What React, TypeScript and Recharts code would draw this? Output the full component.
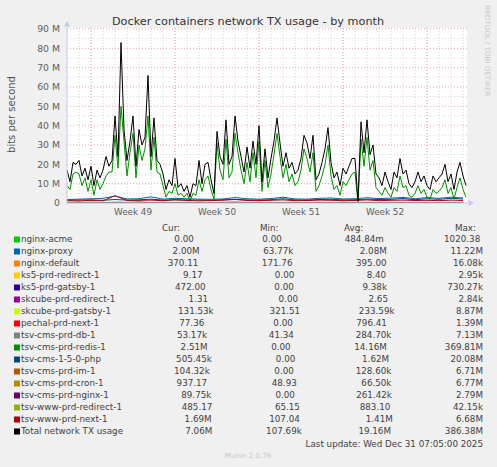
import React from "react";
import { LineChart, Line, XAxis, YAxis, CartesianGrid } from "recharts";

const FONT = "'DejaVu Sans', 'Liberation Sans', sans-serif";

// graph time base: days from the left edge of the graph (12 px per day)
const STEP = 0.25;
const X_END = 400 / 12;

const weekLabels = ["Week 49", "Week 50", "Week 51", "Week 52"];
const weekTickDays = [5.5, 12.5, 19.5, 26.5];
const weekStartDays = [2, 9, 16, 23, 30];
const dayLines = [1, 2, 3, 4, 5, 6, 7, 8, 9, 10, 11, 12, 13, 14, 15, 16, 17, 18, 19, 20, 21, 22, 23, 24, 25, 26, 27, 28, 29, 30, 31, 32, 33];
const yTicks = [0, 10, 20, 30, 40, 50, 60, 70, 80, 90];
const yMinor = [5, 15, 25, 35, 45, 55, 65, 75, 85];

// Mbit/s, one value every 6h
const totalValues = [
  17, 11, 21, 20, 22, 14, 18, 12, 19, 9,
  17, 13, 17, 24, 19, 22, 45, 24, 83, 38,
  22, 32, 45, 19, 38, 30, 34, 66, 24, 44,
  22, 20, 15, 7, 12, 9, 23, 8, 10, 6,
  9, 3, 10, 9, 22, 10, 20, 21, 12, 5,
  37, 24, 20, 43, 20, 24, 45, 32, 24, 16,
  29, 18, 32, 20, 40, 11, 28, 13, 23, 32,
  44, 31, 19, 26, 18, 21, 15, 17, 23, 35,
  31, 23, 35, 12, 15, 21, 28, 39, 21, 13,
  16, 9, 18, 15, 19, 23, 23, 1, 42, 26,
  43, 25, 30, 15, 13, 9, 16, 11, 7, 16,
  13, 23, 15, 17, 10, 8, 11, 16, 11, 14,
  9, 7, 14, 11, 13, 15, 20, 11, 15, 7,
  16, 21, 14, 9,
];
const redisValues = [
  9, 7, 15, 16, 15, 9, 13, 6, 12, 4,
  12, 7, 10, 14, 16, 16, 35, 18, 50, 32,
  14, 26, 36, 13, 30, 22, 28, 45, 17, 34,
  16, 15, 9, 3, 6, 5, 10, 4, 5, 3,
  5, 1, 5, 4, 12, 6, 12, 14, 7, 2,
  31, 17, 12, 33, 13, 16, 36, 26, 17, 10,
  21, 11, 26, 13, 32, 6, 22, 8, 15, 25,
  36, 24, 13, 20, 11, 15, 9, 11, 17, 28,
  23, 16, 26, 6, 9, 14, 20, 30, 14, 7,
  9, 4, 11, 9, 12, 15, 16, 0, 33, 19,
  34, 17, 22, 8, 6, 4, 8, 5, 3, 8,
  6, 14, 8, 9, 4, 3, 5, 9, 5, 7,
  3, 2, 7, 5, 6, 8, 12, 5, 8, 2,
  8, 13, 7, 3,
];

// small series, Mbit/s, one value per day
const acmeValues = [0, 0, 0, 0, 0, 0, 0, 0, 0, 0, 0, 0, 0, 0, 0, 0, 0, 0, 0, 0, 0, 0, 0, 0, 0, 0, 0, 0, 0, 0, 0, 0, 0, 0];
const proxyValues = [1.8, 2.0, 2.2, 2.4, 3.6, 2.1, 2.2, 3.2, 2.0, 2.4, 2.2, 2.0, 1.9, 2.1, 2.8, 2.2, 2.0, 2.3, 3.0, 2.1, 2.0, 2.4, 2.6, 2.1, 2.2, 2.7, 2.3, 2.5, 2.9, 2.2, 2.8, 2.4, 3.0, 2.6];
const defaultValues = [0, 0, 0, 0, 0, 0, 0, 0, 0, 0, 0, 0, 0, 0, 0, 0, 0, 0, 0, 0, 0, 0, 0, 0, 0, 0, 0, 0, 0, 0, 0, 0, 0, 0];
const ks5RedirectValues = [0, 0, 0, 0, 0, 0, 0, 0, 0, 0, 0, 0, 0, 0, 0, 0, 0, 0, 0, 0, 0, 0, 0, 0, 0, 0, 0, 0, 0, 0, 0, 0, 0, 0];
const ks5GatsbyValues = [0, 0, 0, 0, 0, 0, 0, 0, 0, 0, 0, 0, 0, 0, 0, 0, 0, 0, 0, 0, 0.2, 0, 0, 0, 0, 0, 0, 0, 0, 0, 0, 0, 0, 0];
const skRedirectValues = [0, 0, 0, 0, 0, 0, 0, 0, 0, 0, 0, 0, 0, 0, 0, 0, 0, 0, 0, 0, 0, 0, 0, 0, 0, 0, 0, 0, 0, 0, 0, 0, 0, 0];
const skGatsbyValues = [0.2, 0.3, 0.2, 0.2, 0.3, 0.2, 0.4, 0.2, 0.2, 0.3, 0.2, 0.2, 0.2, 0.3, 0.2, 0.2, 0.3, 0.2, 0.2, 0.3, 0.2, 0.2, 0.3, 0.2, 0.2, 0.3, 0.2, 0.2, 0.3, 0.2, 0.2, 0.3, 0.2, 0.2];
const pechalValues = [0, 0, 0, 0, 0, 0, 0, 0, 0, 0, 0, 0, 0, 0, 0, 0, 0, 0, 0, 0, 0, 0, 0, 0, 0, 0, 0, 0, 0, 0, 0, 0, 0, 0];
const dbValues = [0.3, 0.2, 0.3, 0.3, 0.4, 0.3, 0.2, 0.3, 0.3, 0.2, 0.3, 0.3, 0.2, 0.3, 0.4, 0.3, 0.2, 0.3, 0.3, 0.2, 0.3, 0.3, 0.2, 0.3, 0.3, 0.2, 0.3, 0.3, 0.2, 0.3, 0.3, 0.2, 0.3, 0.3];
const phpValues = [1.4, 1.5, 1.6, 1.4, 1.8, 1.5, 1.6, 2.0, 1.5, 1.7, 1.6, 1.5, 1.4, 1.6, 1.9, 1.6, 1.5, 1.7, 2.2, 1.6, 1.5, 1.8, 1.9, 1.6, 1.7, 2.0, 1.8, 1.9, 2.3, 1.7, 2.2, 1.9, 2.4, 2.1];
const imValues = [0.1, 0.1, 0.2, 0.1, 0.1, 0.1, 0.2, 0.1, 0.1, 0.1, 0.2, 0.1, 0.1, 0.1, 0.2, 0.1, 0.1, 0.1, 0.2, 0.1, 0.1, 0.1, 0.2, 0.1, 0.1, 0.1, 0.2, 0.1, 0.1, 0.1, 0.2, 0.1, 0.1, 0.1];
const cronValues = [0.1, 0.1, 0.1, 0.0, 0.1, 0.1, 0.1, 0.0, 0.1, 0.1, 0.1, 0.0, 0.1, 0.1, 0.1, 0.0, 0.1, 0.1, 0.1, 0.0, 0.1, 0.1, 0.1, 0.0, 0.1, 0.1, 0.1, 0.0, 0.1, 0.1, 0.1, 0.0, 0.1, 0.1];
const nginxValues = [0.3, 0.2, 0.4, 0.2, 0.3, 0.3, 0.5, 0.2, 0.3, 0.2, 0.3, 0.2, 0.2, 0.3, 0.4, 0.2, 0.3, 0.2, 0.3, 0.3, 0.2, 0.3, 0.2, 0.3, 0.2, 0.3, 0.2, 0.3, 0.3, 0.2, 0.3, 0.2, 0.3, 0.2];
const wwwRedirectValues = [0, 0, 0, 0, 0, 0, 0, 0, 0, 0, 0, 0, 0, 0, 0, 0, 0, 0, 0, 0, 0, 0, 0, 0, 0, 0, 0, 0, 0, 0, 0, 0, 0, 0];
const nextValues = [1.2, 1.0, 1.4, 1.1, 3.8, 1.3, 1.4, 1.5, 1.2, 1.6, 1.3, 1.1, 1.2, 1.5, 1.8, 1.3, 1.2, 1.4, 1.6, 1.2, 1.3, 1.5, 1.4, 1.2, 1.3, 1.6, 1.2, 1.4, 1.5, 1.3, 1.4, 1.2, 1.5, 1.3];

const seriesNames = [
  "nginx-acme", "nginx-proxy", "nginx-default", "ks5-prd-redirect-1", "ks5-prd-gatsby-1",
  "skcube-prd-redirect-1", "skcube-prd-gatsby-1", "pechal-prd-next-1", "tsv-cms-prd-db-1",
  "tsv-cms-prd-redis-1", "tsv-cms-1-5-0-php", "tsv-cms-prd-im-1", "tsv-cms-prd-cron-1",
  "tsv-cms-prd-nginx-1", "tsv-www-prd-redirect-1", "tsv-www-prd-next-1", "Total network TX usage",
];
const seriesColors = [
  "#00CC00", "#0066B3", "#FF8000", "#FFCC00", "#330099", "#990099", "#CCFF00", "#FF0000", "#808080",
  "#008F00", "#00487D", "#B35A00", "#B38F00", "#6B006B", "#8FB300", "#B30000", "#000000",
];
const curValues = ["0.00", "2.00M", "370.11", "9.17", "472.00", "1.31", "131.53k", "77.36", "53.17k", "2.51M", "505.45k", "104.32k", "937.17", "89.75k", "485.17", "1.69M", "7.06M"];
const minValues = ["0.00", "63.77k", "171.76", "0.00", "0.00", "0.00", "321.51", "0.00", "41.34", "0.00", "0.00", "0.00", "48.93", "0.00", "65.15", "107.04", "107.69k"];
const avgValues = ["484.84m", "2.08M", "395.00", "8.40", "9.38k", "2.65", "233.59k", "796.41", "284.70k", "14.16M", "1.62M", "128.60k", "66.50k", "261.42k", "883.10", "1.41M", "19.16M"];
const maxValues = ["1020.38", "11.22M", "16.08k", "2.95k", "730.27k", "2.84k", "8.87M", "1.39M", "7.13M", "369.81M", "20.08M", "6.71M", "6.77M", "2.79M", "42.15k", "6.68M", "386.38M"];

const mainData = totalValues.map((t, i) => ({ day: i * STEP, total: t, redis: redisValues[i] }));
const daily = (vals: number[]) => vals.map((v, i) => ({ day: i, v }));

// per-series source, in legend (= drawing) order
const smallSeries: (number[] | string)[] = [
  acmeValues, proxyValues, defaultValues, ks5RedirectValues, ks5GatsbyValues, skRedirectValues,
  skGatsbyValues, pechalValues, dbValues, "redis", phpValues, imValues, cronValues, nginxValues,
  wwwRedirectValues, nextValues, "total",
];

const LEG_SIZE = 8.75;
let measureCtx: CanvasRenderingContext2D | null = null;
function textWidth(s: string) {
  if (!measureCtx && typeof document !== "undefined") {
    measureCtx = document.createElement("canvas").getContext("2d");
  }
  if (!measureCtx) return s.length * LEG_SIZE * 0.6;
  measureCtx.font = `${LEG_SIZE}px "DejaVu Sans"`;
  return measureCtx.measureText(s).width;
}

// rrdtool style "%6.2lf%s"
function gprint(v: string) {
  const m = v.match(/^([\d.]+)([kMm]?)$/);
  if (!m) return v;
  return m[1].padStart(6, " ") + (m[2] || " ");
}

function LegendRows() {
  const left = 21;
  const right = 483;
  const padTo = 23;
  return (
    <g fontFamily={FONT} fontSize={LEG_SIZE} fill="#404040">
      {seriesNames.map((name, r) => {
        const y = 242.3 + r * 12;
        const label = name + " ".repeat(Math.max(1, padTo - name.length));
        const vals = [curValues[r], minValues[r], avgValues[r], maxValues[r]].map(gprint);
        const widths = vals.map(textWidth);
        const start = left + textWidth(label);
        const gap = (right - start - widths.reduce((a, b) => a + b, 0)) / 4;
        let x = start + gap;
        const items = vals.map((s, k) => {
          const lead = s.length - s.trimStart().length;
          const tx = x + textWidth(" ".repeat(lead));
          x += widths[k] + gap;
          return (
            <text key={k} x={tx} y={y}>
              {s.trim()}
            </text>
          );
        });
        return (
          <g key={name}>
            <rect x={14} y={y - 5.8} width={6} height={6} fill={seriesColors[r]} />
            <text x={left} y={y}>{name}</text>
            {items}
          </g>
        );
      })}
    </g>
  );
}

export default function App() {
  return (
    <div style={{ position: "absolute", left: 0, top: 0, width: 497, height: 467, background: "#F0F0F0" }}>
      <svg width={497} height={467} style={{ position: "absolute", left: 0, top: 0 }}>
        <text x={248} y={24.5} textAnchor="middle" fontFamily={FONT} fontSize={11.25} fill="#333">
          Docker containers network TX usage - by month
        </text>
        <text x={15} y={114.5} transform="rotate(-90, 15, 114.5)" textAnchor="middle" fontFamily={FONT} fontSize={10} fill="#555">
          bits per second
        </text>
        <text x={484.5} y={5} transform="rotate(90, 484.5, 5)" fontFamily={FONT} fontSize={7.1} fill="#c8c8c8">
          RRDTOOL / TOBI OETIKER
        </text>
        <g fontFamily={FONT} fontSize={LEG_SIZE} fill="#404040">
          <text x={162} y={230.8}>Cur:</text>
          <text x={260} y={230.8}>Min:</text>
          <text x={344} y={230.8}>Avg:</text>
          <text x={476} y={230.8} textAnchor="end">Max:</text>
        </g>
        <LegendRows />
        <text x={483} y={446.8} textAnchor="end" fontFamily={FONT} fontSize={LEG_SIZE} fill="#404040">
          Last update: Wed Dec 31 07:05:00 2025
        </text>
        <text x={248} y={458} textAnchor="middle" fontFamily={FONT} fontSize={7.1} fill="#c8c8c8">
          Munin 2.0.76
        </text>
      </svg>
      <LineChart
        width={497}
        height={240}
        data={mainData}
        margin={{ top: 28, right: 30, bottom: 0, left: 7 }}
        style={{ position: "absolute", left: 0, top: 0 }}
      >
        <CartesianGrid fill="#ffffff" stroke="#d6d6d6" strokeDasharray="1 2" verticalValues={dayLines} horizontalValues={yMinor} />
        <CartesianGrid fill="none" stroke="#eea6a6" strokeDasharray="1 2" verticalValues={weekStartDays} horizontalValues={yTicks} />
        <XAxis
          type="number"
          dataKey="day"
          domain={[0, X_END]}
          ticks={weekTickDays}
          interval={0}
          allowDataOverflow
          height={37}
          tickSize={0}
          tickMargin={6}
          tickFormatter={(v) => weekLabels[weekTickDays.indexOf(v)] ?? ""}
          tick={{ fill: "#606060", fontSize: 8.8, fontFamily: FONT }}
          axisLine={{ stroke: "#c4c8ec" }}
        />
        <YAxis
          type="number"
          domain={[0, 90.5]}
          ticks={yTicks}
          interval={0}
          allowDataOverflow
          width={60}
          tickSize={0}
          tickMargin={7}
          tickFormatter={(v) => (v === 0 ? "0" : `${v} M`)}
          tick={{ fill: "#606060", fontSize: 9.3, fontFamily: FONT }}
          axisLine={{ stroke: "#c4c8ec" }}
        />
        {smallSeries.map((src, k) =>
          typeof src === "string" ? (
            <Line key={seriesNames[k]} dataKey={src} type="linear" stroke={seriesColors[k]} strokeWidth={1} dot={false} activeDot={false} isAnimationActive={false} />
          ) : (
            <Line key={seriesNames[k]} data={daily(src)} dataKey="v" type="linear" stroke={seriesColors[k]} strokeWidth={1} dot={false} activeDot={false} isAnimationActive={false} />
          )
        )}
      </LineChart>
      <svg width={497} height={467} style={{ position: "absolute", left: 0, top: 0, pointerEvents: "none" }}>
        <polygon points="67,21 64,26.5 70,26.5" fill="#c4c8ec" />
        <polygon points="474,203 468.5,200 468.5,206" fill="#c4c8ec" />
      </svg>
    </div>
  );
}
